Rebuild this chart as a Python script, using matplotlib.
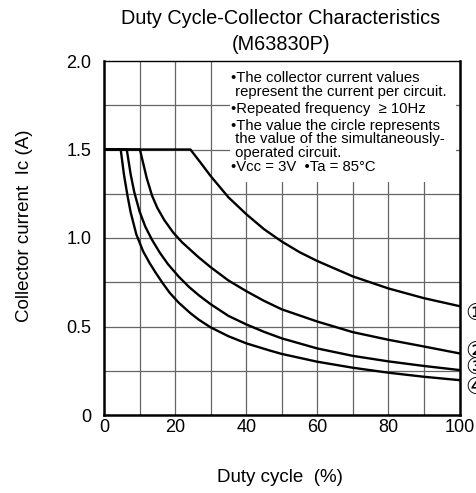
import matplotlib
matplotlib.use("Agg")
import matplotlib.pyplot as plt
import matplotlib.patches as mpatches

plt.rcParams['font.family'] = ['Liberation Sans', 'DejaVu Sans', 'Noto Sans CJK JP']

# Data (duty cycle %, collector current A)
duty1 = [0, 24.3, 27, 30, 35, 40, 45, 50, 55, 60, 70, 80, 90, 100]
ic1 = [1.5, 1.5, 1.43, 1.35, 1.23, 1.135, 1.05, 0.98, 0.92, 0.87, 0.783, 0.715, 0.66, 0.615]

duty2 = [0, 10.1, 12, 13.5, 15, 17, 19.5, 22, 26.5, 30, 35, 40, 45, 50, 60, 70, 80, 90, 100]
ic2 = [1.5, 1.5, 1.34, 1.24, 1.17, 1.10, 1.03, 0.975, 0.893, 0.835, 0.76, 0.70, 0.645,
       0.597, 0.528, 0.468, 0.425, 0.387, 0.348]

duty3 = [0, 6.4, 7.5, 8.5, 10, 11.6, 13.5, 15.7, 18, 21, 24, 26.7, 30, 35, 40, 45, 50, 60,
         70, 80, 90, 100]
ic3 = [1.5, 1.5, 1.36, 1.26, 1.15, 1.065, 0.99, 0.917, 0.852, 0.782, 0.722, 0.676, 0.626,
       0.56, 0.512, 0.47, 0.433, 0.376, 0.334, 0.303, 0.277, 0.254]

duty4 = [0, 4.7, 5.6, 6.6, 7.5, 9.1, 11, 12.9, 14.5, 16.5, 18.5, 21, 24.2, 26.7, 30, 35, 40,
         46.5, 50, 60, 70, 80, 90, 100]
ic4 = [1.5, 1.5, 1.36, 1.24, 1.145, 1.02, 0.925, 0.856, 0.805, 0.745, 0.69, 0.635, 0.577,
       0.538, 0.495, 0.445, 0.405, 0.365, 0.345, 0.301, 0.267, 0.239, 0.216, 0.197]

curve_labels = ['\u2460', '\u2461', '\u2462', '\u2463']
xticks = [0, 20, 40, 60, 80, 100]
yticks = [0, 0.5, 1.0, 1.5, 2.0]
ytick_labels = ['0', '0.5', '1.0', '1.5', '2.0']

notes = [
    ("\u2022The collector current values", 78),
    (" represent the current per circuit.", 92),
    ("\u2022Repeated frequency  \u2265 10Hz", 109),
    ("\u2022The value the circle represents", 126),
    (" the value of the simultaneously-", 139),
    (" operated circuit.", 153),
    ("\u2022Vcc = 3V  \u2022Ta = 85\u00b0C", 167),
]

W, H = 476, 493
fig = plt.figure(figsize=(W / 100, H / 100), dpi=100)
ax = fig.add_axes([104 / W, 1 - 415 / H, (459.5 - 104) / W, (415 - 61) / H])

ax.set_xlim(0, 100)
ax.set_ylim(0, 2.0)

# grid
for gx in range(10, 100, 10):
    ax.axvline(gx, color='#666666', lw=0.9, zorder=1)
for gy in [0.25, 0.5, 0.75, 1.0, 1.25, 1.5, 1.75]:
    ax.axhline(gy, color='#666666', lw=0.9, zorder=1)

for d, c in [(duty1, ic1), (duty2, ic2), (duty3, ic3), (duty4, ic4)]:
    ax.plot(d, c, color='black', lw=1.7, zorder=3, solid_joinstyle='round')

# white note box
box = mpatches.Rectangle((35.4, 1.315), 99.0 - 35.4, 2.0 - 1.315, facecolor='white',
                         edgecolor='none', zorder=2)
ax.add_patch(box)
for txt, ypx in notes:
    fig.text(231 / W, 1 - ypx / H, txt, fontsize=10.7, va='center', ha='left', zorder=5)

ax.set_xticks(xticks)
ax.set_xticklabels([str(v) for v in xticks], fontsize=13)
ax.set_yticks(yticks)
ax.set_yticklabels(ytick_labels, fontsize=13)
ax.tick_params(axis='x', length=0, pad=3)
ax.tick_params(axis='y', length=0, pad=9)

for s in ['left', 'bottom', 'right']:
    ax.spines[s].set_linewidth(1.8)
ax.spines['top'].set_linewidth(1.0)

# circled curve labels at the right edge
for lab, ypx in zip(curve_labels, [314, 352, 368, 388]):
    fig.text(465 / W, 1 - ypx / H, lab, fontsize=16.5, va='center', ha='left')

fig.text(281 / W, 1 - 19 / H, "Duty Cycle-Collector Characteristics", fontsize=14.3,
         ha='center', va='center')
fig.text(281 / W, 1 - 45 / H, "(M63830P)", fontsize=14.3, ha='center', va='center')
fig.text(280 / W, 1 - 478 / H, "Duty cycle  (%)", fontsize=13.5, ha='center', va='center')
fig.text(25 / W, 1 - 226 / H, "Collector current  Ic (A)", fontsize=13.5, ha='center',
         va='center', rotation=90)

fig.savefig("out.png", dpi=100)
